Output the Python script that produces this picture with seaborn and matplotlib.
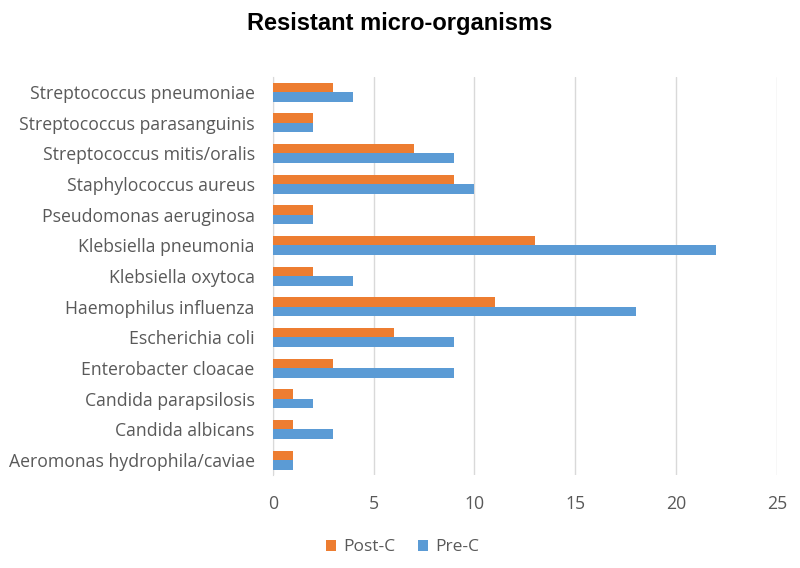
import pandas as pd
import matplotlib.pyplot as plt
import seaborn as sns

organisms = [
    "Streptococcus pneumoniae",
    "Streptococcus parasanguinis",
    "Streptococcus mitis/oralis",
    "Staphylococcus aureus",
    "Pseudomonas aeruginosa",
    "Klebsiella pneumonia",
    "Klebsiella oxytoca",
    "Haemophilus influenza",
    "Escherichia coli",
    "Enterobacter cloacae",
    "Candida parapsilosis",
    "Candida albicans",
    "Aeromonas hydrophila/caviae",
]
post_c = [3, 2, 7, 9, 2, 13, 2, 11, 6, 3, 1, 1, 1]
pre_c = [4, 2, 9, 10, 2, 22, 4, 18, 9, 9, 2, 3, 1]
x_ticks = [0, 5, 10, 15, 20, 25]

df = pd.DataFrame({
    "Organism": organisms * 2,
    "Count": post_c + pre_c,
    "Group": ["Post-C"] * len(organisms) + ["Pre-C"] * len(organisms),
})

sns.set_style("white")
plt.rcParams["font.family"] = ["Open Sans", "DejaVu Sans"]

fig = plt.figure(figsize=(8, 5.68), dpi=100)
ax = fig.add_axes([0.341, 0.163, 0.63, 0.702])

sns.barplot(data=df, y="Organism", x="Count", hue="Group", hue_order=["Post-C", "Pre-C"],
            palette={"Post-C": "#ED7D31", "Pre-C": "#5B9BD5"}, saturation=1,
            width=0.62, gap=0, linewidth=0, orient="h", ax=ax, zorder=3)

ax.set_xlim(0, 25)
ax.set_xticks(x_ticks)
ax.xaxis.grid(True, color="#D9D9D9", linewidth=1, zorder=0)
ax.set_axisbelow(True)
for s in ["top", "right", "bottom"]:
    ax.spines[s].set_visible(False)
ax.spines["left"].set_color("#D9D9D9")
ax.tick_params(axis="both", length=0, labelsize=12.7, labelcolor="#595959")
ax.tick_params(axis="x", pad=14)
ax.tick_params(axis="y", pad=13)
ax.set_xlabel("")
ax.set_ylabel("")

fig.suptitle("Resistant micro-organisms", y=0.978, fontsize=17, fontweight="bold",
             color="black", family=["Liberation Sans", "DejaVu Sans"])

ax.legend(loc="center", bbox_to_anchor=(0.257, -0.18),
          ncol=2, frameon=False, fontsize=12.5, handlelength=0.6, handleheight=0.6,
          columnspacing=1.3, handletextpad=0.4, labelcolor="#595959")

fig.savefig("out.png", dpi=100)
